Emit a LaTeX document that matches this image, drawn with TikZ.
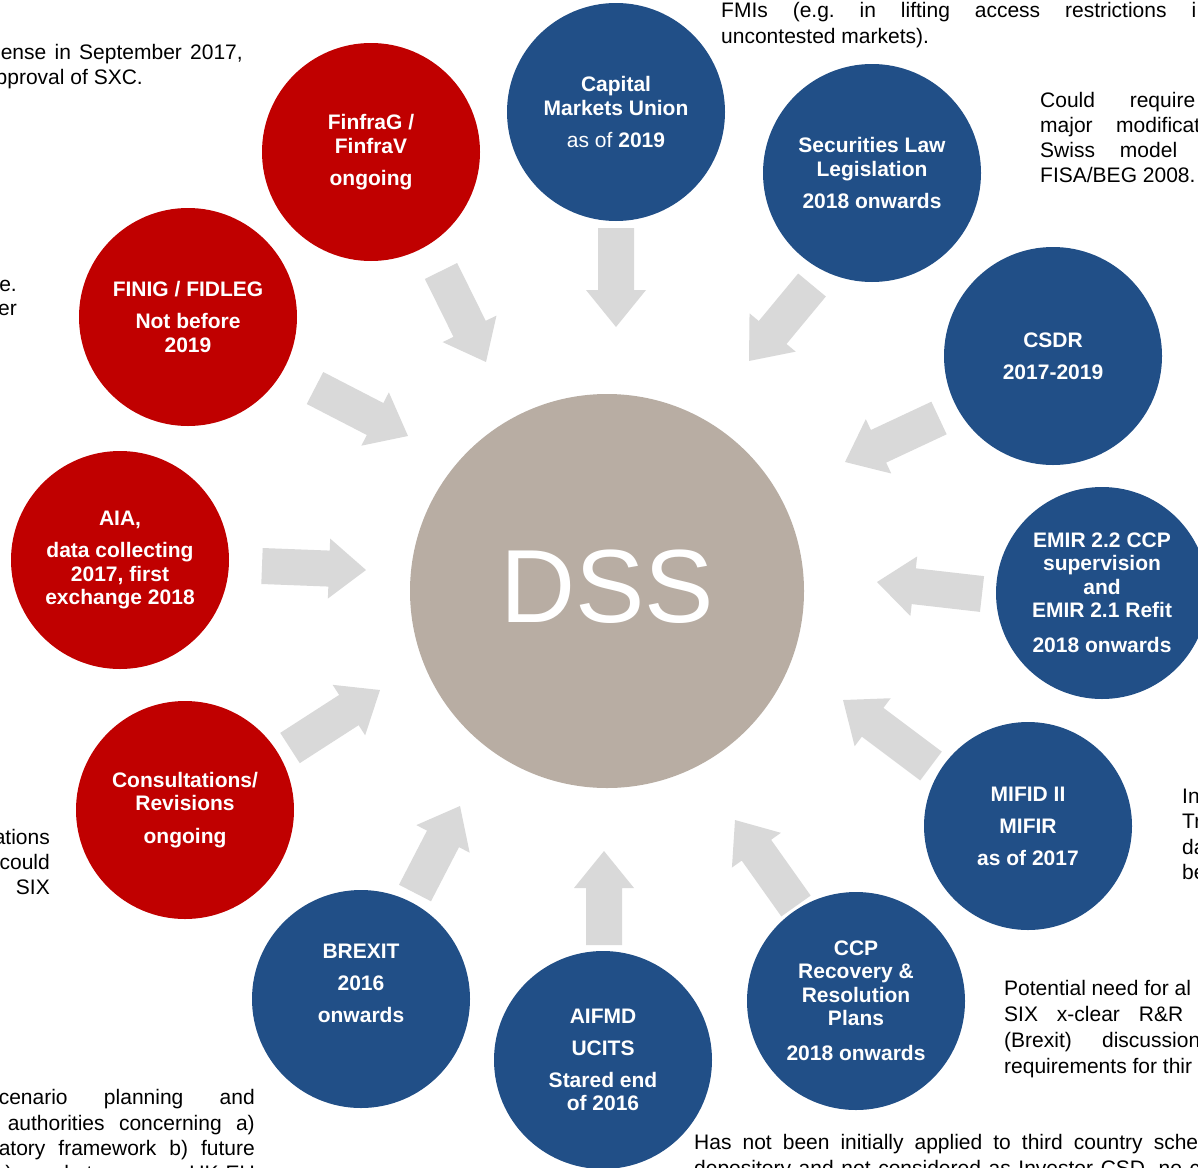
\documentclass[tikz,border=0pt]{standalone}
\usepackage{fontspec}
\setmainfont{Liberation Sans}
\usetikzlibrary{calc}
\definecolor{sixred}{RGB}{192,0,0}
\definecolor{sixblue}{RGB}{33,79,135}
\definecolor{dssgray}{RGB}{184,173,163}
\definecolor{arrgray}{RGB}{217,217,217}
\frenchspacing
\tikzset{
  circ/.style={circle, minimum size=218pt, inner sep=0pt, text=white,
    font=\bfseries\fontsize{21}{23.5}\selectfont, align=center},
  redc/.style={circ, fill=sixred},
  bluec/.style={circ, fill=sixblue},
  ctext/.style={inner sep=0pt, text=white, font=\bfseries\fontsize{21}{23.5}\selectfont, align=center},
  body/.style={inner sep=0pt, font=\fontsize{21}{25.5}\selectfont},
  bodyl/.style={body, anchor=base west},
  bodyr/.style={body, anchor=base east},
}
\newcommand\blockarr[2]{%
  \path let \p1=(#1), \p2=(#2), \n1={atan2(\y2-\y1,\x2-\x1)}, \n2={veclen(\x2-\x1,\y2-\y1)} in
    \pgfextra{\xdef\barang{\n1}\xdef\barlen{\n2}};
  \fill[arrgray, shift={(#1)}, rotate=\barang]
    (0,18) -- ({\barlen-37},18) -- ({\barlen-37},30) -- (\barlen,0)
    -- ({\barlen-37},-30) -- ({\barlen-37},-18) -- (0,-18) -- cycle;
}
\begin{document}
\frenchspacing
\begin{tikzpicture}[x=1pt, y=-1pt]
\useasboundingbox (0,0) rectangle (1198,1167);
\clip (0,0) rectangle (1198,1167);
\fill[white] (0,0) rectangle (1198,1167);

% central circle
\node[circle, fill=dssgray, minimum size=394pt, inner sep=0pt] (dss) at (607,591) {};
\node[inner sep=0pt, text=white, font=\fontsize{104}{104}\selectfont] (dsst) at (607,587) {DSS};

% surrounding circles
\node[bluec] (cmu) at (616,112) {Capital\\Markets Union\\[8.5pt]{\mdseries as of} 2019};
\node[bluec] (sec) at (872,173) {Securities Law\\Legislation\\[8.5pt]2018 onwards};
\node[bluec] (csdr) at (1053,356) {CSDR\\[8.5pt]2017-2019};
\node[bluec, minimum size=212pt] (emir) at (1102,593) {EMIR 2.2 CCP\\supervision\\and\\EMIR 2.1 Refit\\[11.5pt]2018 onwards};
\node[bluec, minimum size=208pt] (mifid) at (1028,826) {MIFID II\\[8.5pt]MIFIR\\[8.5pt]as of 2017};
\node[bluec] (ccp) at (856,1001) {CCP\\Recovery \&\\Resolution\\Plans\\[11.5pt]2018 onwards};
\node[bluec] (aifmd) at (603,1060) {AIFMD\\[8.5pt]UCITS\\[8.5pt]Stared end\\of 2016};
\node[bluec] (brexit) at (361,999) {};
\node[ctext] (brexitt) at ([yshift=16pt]brexit.center) {BREXIT\\[8.5pt]2016\\[8.5pt]onwards};
\node[redc] (cons) at (185,810) {Consultations/\\Revisions\\[9.5pt]ongoing};
\node[redc] (aia) at (120,560) {AIA,\\[8.5pt]data collecting\\2017, first\\exchange 2018};
\node[redc] (finig) at (188,317) {FINIG / FIDLEG\\[8.5pt]Not before\\2019};
\node[redc] (finfrag) at (371,152) {FinfraG /\\FinfraV\\[8.5pt]ongoing};

% block arrows towards DSS
\coordinate (a1t) at (616,228);  \coordinate (a1h) at (616,327);
\coordinate (a2t) at (441,271);  \coordinate (a2h) at (486,362);
\coordinate (a3t) at (812,285);  \coordinate (a3h) at (749,361);
\coordinate (a4t) at (315,388);  \coordinate (a4h) at (408,436);
\coordinate (a5t) at (939,418);  \coordinate (a5h) at (845,462);
\coordinate (a6t) at (262,566);  \coordinate (a6h) at (366,570);
\coordinate (a7t) at (982,594);  \coordinate (a7h) at (877,582);
\coordinate (a8t) at (290,748);  \coordinate (a8h) at (380,690);
\coordinate (a9t) at (931,766);  \coordinate (a9h) at (843,700);
\coordinate (a10t) at (415,893); \coordinate (a10h) at (460,806);
\coordinate (a11t) at (604,945); \coordinate (a11h) at (604,851);
\coordinate (a12t) at (796,906); \coordinate (a12h) at (735,820);
\blockarr{a1t}{a1h}
\blockarr{a2t}{a2h}
\blockarr{a3t}{a3h}
\blockarr{a4t}{a4h}
\blockarr{a5t}{a5h}
\blockarr{a6t}{a6h}
\blockarr{a7t}{a7h}
\blockarr{a8t}{a8h}
\blockarr{a9t}{a9h}
\blockarr{a10t}{a10h}
\blockarr{a11t}{a11h}
\blockarr{a12t}{a12h}

% text fragments
\node[bodyl] (t1) at (721,17.5) {\makebox[475pt][s]{FMIs (e.g. in lifting access restrictions i}};
\node[bodyl] (t2) at (721,43.5) {uncontested markets).};

\node[bodyr] (t3) at (243,59.5) {\makebox[242pt][s]{ense in September 2017,}};
\node[bodyr] (t4) at (143,84.5) {pproval of SXC.};

\node[bodyr] (t5) at (17,291.5) {e.};
\node[bodyr] (t6) at (17,315.5) {er};

\node[bodyr] (t7) at (50,844.5) {ations};
\node[bodyr] (t8) at (50,869.5) {could};
\node[bodyr] (t9) at (50,894.5) {SIX};

\node[bodyr] (t10) at (255,1104.5) {\makebox[256pt][s]{cenario planning and}};
\node[bodyr] (t11) at (255,1130.5) {\makebox[247pt][s]{authorities concerning a)}};
\node[bodyr] (t12) at (255,1155.5) {\makebox[256pt][s]{atory framework b) future}};
\node[bodyr] (t13) at (255,1180) {\makebox[260pt][s]{c) market access UK-EU}};

\node[bodyl] (t14) at (694,1149.5) {\makebox[504pt][s]{Has not been initially applied to third country sche}};
\node[bodyl] (t15) at (694,1175) {\makebox[506pt][s]{depository and not considered as Investor CSD, no c}};

\node[bodyl] (t16) at (1040,107.5) {\makebox[155pt][s]{Could require}};
\node[bodyl] (t17) at (1040,132.5) {\makebox[160pt][s]{major modificat}};
\node[bodyl] (t18) at (1040,157.5) {\makebox[137pt][s]{Swiss model}};
\node[bodyl] (t19) at (1040,182.5) {FISA/BEG 2008.};

\node[bodyl] (t20) at (1182,803.5) {In};
\node[bodyl] (t21) at (1182,828.5) {Tr};
\node[bodyl] (t22) at (1182,854.5) {da};
\node[bodyl] (t23) at (1182,879.5) {be};

\node[bodyl] (t24) at (1004,995.5) {Potential need for al};
\node[bodyl] (t25) at (1004,1021.5) {\makebox[179pt][s]{SIX x-clear R\&R}};
\node[bodyl] (t26) at (1004,1047.5) {\makebox[196pt][s]{(Brexit) discussion}};
\node[bodyl] (t27) at (1004,1073.5) {requirements for thir};
\end{tikzpicture}
\end{document}
